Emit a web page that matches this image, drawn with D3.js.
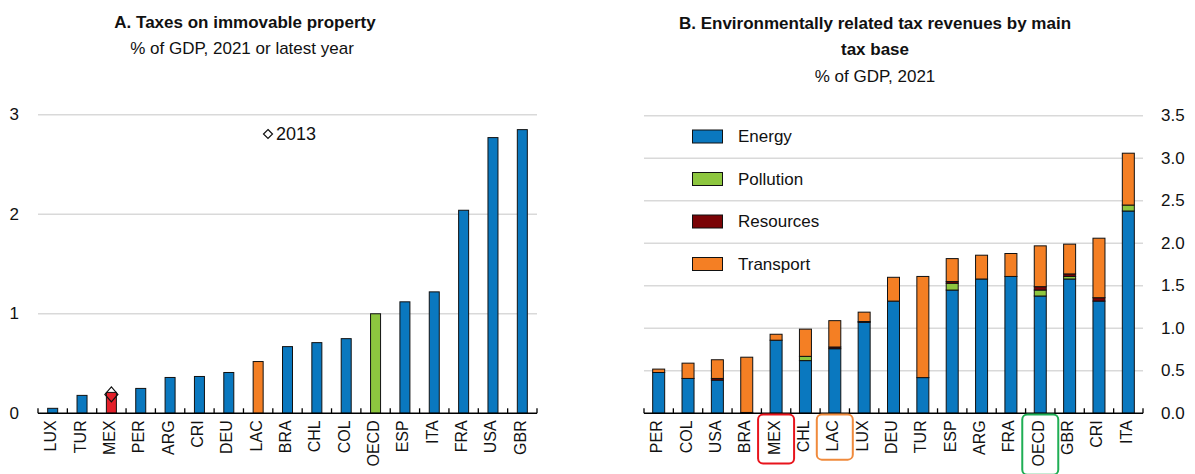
<!DOCTYPE html>
<html>
<head>
<meta charset="utf-8">
<script src="https://cdn.jsdelivr.net/npm/d3@7"></script>
<style>
  html, body { margin: 0; padding: 0; background: #fff; }
  svg { display: block; font-family: "Liberation Sans", Arial, sans-serif; }
</style>
</head>
<body>
<svg id="chart" width="1195" height="474"></svg>
<script>
// Panel A: taxes on immovable property, % of GDP
const propCountries = ["LUX","TUR","MEX","PER","ARG","CRI","DEU","LAC","BRA","CHL","COL","OECD","ESP","ITA","FRA","USA","GBR"];
const propValues    = [0.05, 0.18, 0.21, 0.25, 0.36, 0.37, 0.41, 0.52, 0.67, 0.71, 0.75, 1.00, 1.12, 1.22, 2.04, 2.77, 2.85];
const prop2013      = { MEX: 0.19 };
const propTicks     = [0, 1, 2, 3];

// Panel B: environmentally related tax revenues by tax base, % of GDP
const envCountries = ["PER","COL","USA","BRA","MEX","CHL","LAC","LUX","DEU","TUR","ESP","ARG","FRA","OECD","GBR","CRI","ITA"];
const energy    = [0.48, 0.41, 0.39, 0.01, 0.86, 0.62, 0.76, 1.07, 1.32, 0.42, 1.45, 1.58, 1.61, 1.38, 1.58, 1.32, 2.38];
const pollution = [0.00, 0.00, 0.00, 0.00, 0.00, 0.05, 0.00, 0.00, 0.00, 0.00, 0.08, 0.00, 0.00, 0.07, 0.03, 0.00, 0.07];
const resources = [0.00, 0.00, 0.02, 0.00, 0.00, 0.00, 0.02, 0.01, 0.00, 0.00, 0.02, 0.00, 0.00, 0.04, 0.03, 0.04, 0.00];
const transport = [0.04, 0.18, 0.22, 0.65, 0.07, 0.32, 0.31, 0.11, 0.28, 1.19, 0.27, 0.28, 0.27, 0.48, 0.35, 0.70, 0.61];
const envSeries = ["Energy", "Pollution", "Resources", "Transport"];
const envTicks  = [0, 0.5, 1, 1.5, 2, 2.5, 3, 3.5];

const BLUE = "#0a78bf", GREEN = "#8dc63f", RED = "#e3202a", ORANGE = "#f47f24", DARKRED = "#7a0306";
const GRID = "#d9d9d9";
const seriesColor = { Energy: BLUE, Pollution: GREEN, Resources: DARKRED, Transport: ORANGE };
const highlight = { MEX: "#e8141c", LAC: "#f08a3c", OECD: "#1fae55" };

const svg = d3.select("#chart");

function diamond(cx, cy, hw, hh) {
  return `M${cx},${cy - hh}L${cx + hw},${cy}L${cx},${cy + hh}L${cx - hw},${cy}Z`;
}

function categoryAxis(g, x, y0, labels) {
  const step = x.step();
  const [x0, x1] = x.range();
  g.append("line").attr("x1", x0).attr("x2", x1).attr("y1", y0).attr("y2", y0)
    .attr("stroke", "#000").attr("stroke-width", 1.6);
  d3.range(labels.length + 1).forEach(i => {
    const xx = x0 + i * step;
    g.append("line").attr("x1", xx).attr("x2", xx).attr("y1", y0).attr("y2", y0 - 5)
      .attr("stroke", "#000").attr("stroke-width", 1.3);
  });
  return g.selectAll("text.cat").data(labels).join("text")
    .attr("class", "cat")
    .attr("transform", d => `translate(${x(d) + x.bandwidth() / 2 - 2},${y0 + 7}) rotate(-90)`)
    .attr("text-anchor", "end")
    .attr("dominant-baseline", "central")
    .attr("font-size", 16)
    .attr("fill", "#111")
    .text(d => d);
}

// ---------- Panel A ----------
{
  const g = svg.append("g");
  const x = d3.scaleBand().domain(propCountries).range([38, 537]).padding(0);
  const y = d3.scaleLinear().domain([0, 3]).range([413.3, 114.7]);

  g.selectAll("line.grid").data(propTicks.filter(t => t > 0)).join("line")
    .attr("class", "grid")
    .attr("x1", 38).attr("x2", 537)
    .attr("y1", d => y(d)).attr("y2", d => y(d))
    .attr("stroke", GRID).attr("stroke-width", 1.5);

  g.selectAll("text.ytick").data(propTicks).join("text")
    .attr("class", "ytick")
    .attr("x", 19).attr("y", d => y(d))
    .attr("text-anchor", "end").attr("dominant-baseline", "central")
    .attr("font-size", 17).attr("fill", "#111")
    .text(d => d3.format("d")(d));

  const bw = 10;
  const colorA = d => d === "MEX" ? RED : d === "LAC" ? ORANGE : d === "OECD" ? GREEN : BLUE;
  g.selectAll("rect.bar").data(propCountries).join("rect")
    .attr("class", "bar")
    .attr("x", d => x(d) + x.bandwidth() / 2 - bw / 2)
    .attr("width", bw)
    .attr("y", (d, i) => y(propValues[i]))
    .attr("height", (d, i) => y(0) - y(propValues[i]))
    .attr("fill", colorA)
    .attr("stroke", "#111").attr("stroke-width", 1);

  categoryAxis(g, x, 413.3, propCountries);

  Object.entries(prop2013).forEach(([c, v]) => {
    g.append("path")
      .attr("d", diamond(x(c) + x.bandwidth() / 2, y(v), 6.5, 7.5))
      .attr("fill", "none").attr("stroke", "#111").attr("stroke-width", 1.2);
  });

  g.append("path").attr("d", diamond(268, 134, 4.5, 4.5))
    .attr("fill", "none").attr("stroke", "#111").attr("stroke-width", 1.2);
  g.append("text").attr("x", 276).attr("y", 134)
    .attr("dominant-baseline", "central").attr("font-size", 18).attr("fill", "#111")
    .text("2013");

  g.append("text").attr("x", 245).attr("y", 27.5)
    .attr("text-anchor", "middle").attr("font-size", 17).attr("font-weight", "bold").attr("fill", "#111")
    .text("A. Taxes on immovable property");
  g.append("text").attr("x", 242).attr("y", 53.5)
    .attr("text-anchor", "middle").attr("font-size", 17).attr("fill", "#111")
    .text("% of GDP, 2021 or latest year");
}

// ---------- Panel B ----------
{
  const g = svg.append("g");
  const x = d3.scaleBand().domain(envCountries).range([644, 1143]).padding(0);
  const y = d3.scaleLinear().domain([0, 3.5]).range([413.3, 115.8]);

  g.selectAll("line.grid").data(envTicks.filter(t => t > 0)).join("line")
    .attr("class", "grid")
    .attr("x1", 644).attr("x2", 1143)
    .attr("y1", d => y(d)).attr("y2", d => y(d))
    .attr("stroke", GRID).attr("stroke-width", 1.5);

  g.selectAll("text.ytick").data(envTicks).join("text")
    .attr("class", "ytick")
    .attr("x", 1161).attr("y", d => y(d))
    .attr("dominant-baseline", "central")
    .attr("font-size", 17).attr("fill", "#111")
    .text(d => d3.format(".1f")(d));

  const rows = envCountries.map((c, i) => ({
    country: c, Energy: energy[i], Pollution: pollution[i], Resources: resources[i], Transport: transport[i]
  }));
  const stacked = d3.stack().keys(envSeries)(rows);
  const bw = 12;
  g.selectAll("g.layer").data(stacked).join("g")
    .attr("class", "layer")
    .attr("fill", d => seriesColor[d.key])
    .selectAll("rect").data(d => d.filter(s => s[1] - s[0] > 0)).join("rect")
    .attr("x", d => x(d.data.country) + x.bandwidth() / 2 - bw / 2)
    .attr("width", bw)
    .attr("y", d => y(d[1]))
    .attr("height", d => y(d[0]) - y(d[1]))
    .attr("stroke", "#111").attr("stroke-width", 1);

  const labels = categoryAxis(g, x, 413.3, envCountries);

  // rounded frames around highlighted economies
  labels.each(function (d) {
    if (!highlight[d]) return;
    const bb = this.getBBox();
    const len = bb.width;
    const cx = x(d) + x.bandwidth() / 2;
    g.append("rect")
      .attr("x", cx - 18).attr("width", 36)
      .attr("y", 414.5).attr("height", len + 7 + 7)
      .attr("rx", 5).attr("ry", 5)
      .attr("fill", "none").attr("stroke", highlight[d]).attr("stroke-width", 2);
  });

  // legend
  const lg = g.append("g");
  envSeries.forEach((s, i) => {
    const cy = 136.5 + i * 42.5;
    lg.append("rect").attr("x", 692.5).attr("y", cy - 6.5).attr("width", 30).attr("height", 13)
      .attr("fill", seriesColor[s]).attr("stroke", "#111").attr("stroke-width", 1);
    lg.append("text").attr("x", 738).attr("y", cy)
      .attr("dominant-baseline", "central").attr("font-size", 17).attr("fill", "#111")
      .text(s);
  });

  g.append("text").attr("x", 875).attr("y", 28.5)
    .attr("text-anchor", "middle").attr("font-size", 17).attr("font-weight", "bold").attr("fill", "#111")
    .text("B. Environmentally related tax revenues by main");
  g.append("text").attr("x", 875).attr("y", 55)
    .attr("text-anchor", "middle").attr("font-size", 17).attr("font-weight", "bold").attr("fill", "#111")
    .text("tax base");
  g.append("text").attr("x", 875).attr("y", 81.5)
    .attr("text-anchor", "middle").attr("font-size", 17).attr("fill", "#111")
    .text("% of GDP, 2021");
}
</script>
</body>
</html>
